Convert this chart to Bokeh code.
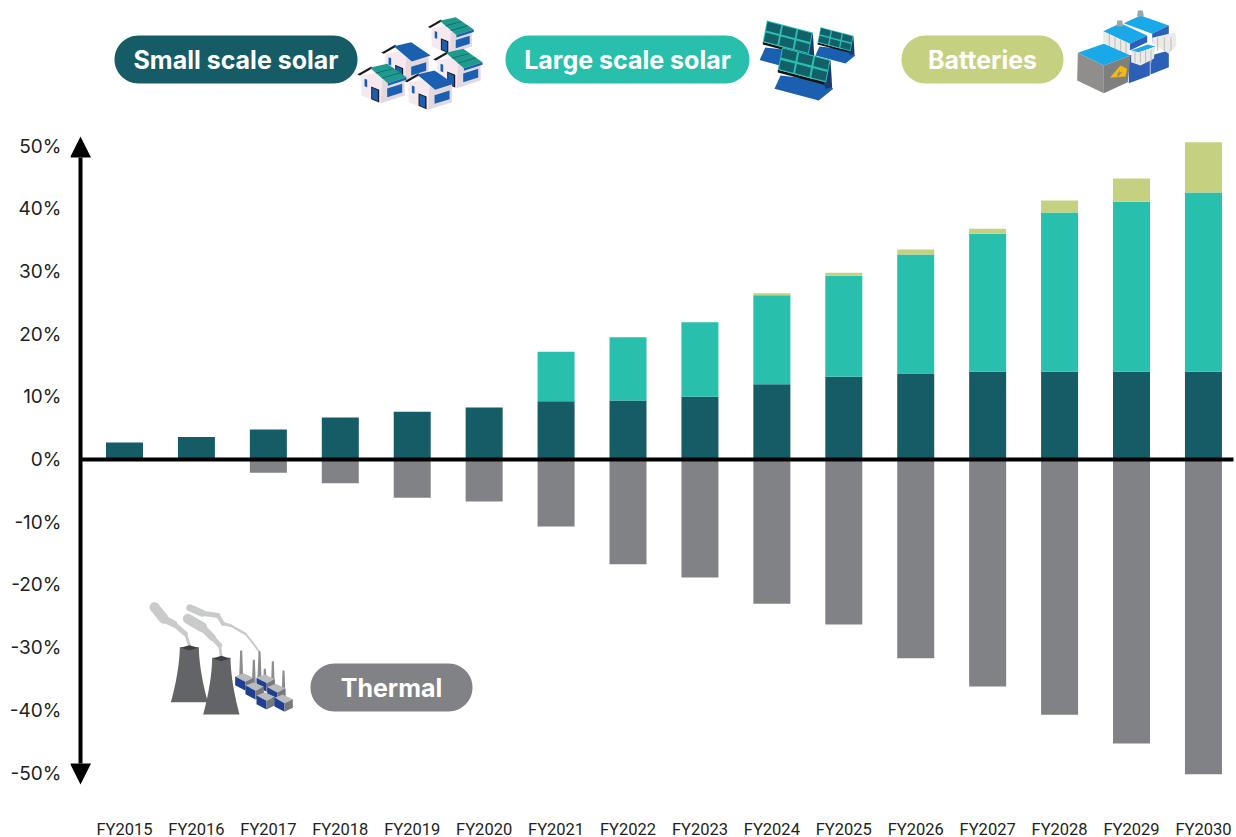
import numpy as np
from bokeh.embed import file_html
from bokeh.models import Arrow, FixedTicker, NormalHead, Range1d
from bokeh.plotting import figure
from bokeh.resources import INLINE
from bokeh.core.properties import value

years = ["FY2015", "FY2016", "FY2017", "FY2018", "FY2019", "FY2020", "FY2021", "FY2022",
         "FY2023", "FY2024", "FY2025", "FY2026", "FY2027", "FY2028", "FY2029", "FY2030"]
small_scale_solar = [2.7, 3.6, 4.8, 6.7, 7.6, 8.3, 9.3, 9.4, 10.0, 12.0, 13.2, 13.7, 14.0, 14.0, 14.0, 14.0]
large_scale_solar = [0, 0, 0, 0, 0, 0, 7.9, 10.1, 11.9, 14.2, 16.1, 19.0, 22.0, 25.4, 27.1, 28.6]
batteries = [0, 0, 0, 0, 0, 0, 0, 0, 0, 0.3, 0.5, 0.8, 0.8, 1.9, 3.7, 8.0]
thermal = [0, 0, -2.1, -3.8, -6.1, -6.7, -10.7, -16.7, -18.8, -23.0, -26.3, -31.7, -36.2, -40.7, -45.3, -50.2]
y_ticks = [-50, -40, -30, -20, -10, 0, 10, 20, 30, 40, 50]

TEAL_DARK, TEAL, OLIVE, GREY = "#155C66", "#28BFAD", "#C6D081", "#818285"
BLUE, INK = "#1B5FB0", "#231F20"

WIDTH, HEIGHT = 1236, 837
FRAME_LEFT, FRAME_BOTTOM = 70, 812
X0, X_STEP = 124.0, 71.93
Y0, Y_STEP = 459.0, 6.27


def dx(px):
    return (np.asarray(px, dtype=float) - X0) / X_STEP


def dy(py):
    return (Y0 - np.asarray(py, dtype=float)) / Y_STEP


p = figure(frame_width=WIDTH - FRAME_LEFT, frame_height=FRAME_BOTTOM, output_backend="svg", toolbar_location=None,
           x_range=Range1d(float(dx(FRAME_LEFT)), float(dx(WIDTH))),
           y_range=Range1d(float(dy(FRAME_BOTTOM)), float(dy(0))),
           min_border_left=FRAME_LEFT, min_border_right=0, min_border_top=0,
           min_border_bottom=HEIGHT - FRAME_BOTTOM)
p.outline_line_color = None
p.grid.visible = False

idx = np.arange(len(years))
bottom = np.zeros(len(years))
for vals, col in [(small_scale_solar, TEAL_DARK), (large_scale_solar, TEAL), (batteries, OLIVE)]:
    vals = np.array(vals, dtype=float)
    p.vbar(x=idx, bottom=bottom, top=bottom + vals, width=37 / X_STEP, fill_color=col, line_color=None)
    bottom = bottom + vals
p.vbar(x=idx, bottom=0, top=thermal, width=37 / X_STEP, fill_color=GREY, line_color=None)

# horizontal zero line and double-headed vertical axis
p.line(dx([80, 1233]), [0, 0], line_color="black", line_width=4)
p.add_layout(Arrow(x_start=float(dx(80)), x_end=float(dx(80)), y_start=float(dy(784)), y_end=float(dy(136)),
                   line_color="black", line_width=4,
                   start=NormalHead(size=21, fill_color="black", line_color="black", line_width=0),
                   end=NormalHead(size=21, fill_color="black", line_color="black", line_width=0)))

p.xaxis.ticker = FixedTicker(ticks=list(idx))
p.xaxis.major_label_overrides = {int(i): y for i, y in zip(idx, years)}
p.xaxis.axis_line_color = None
p.xaxis.major_tick_line_color = None
p.xaxis.minor_tick_line_color = None
p.xaxis.major_label_standoff = 1
p.xaxis.major_label_text_font = "Roboto"
p.xaxis.major_label_text_font_size = "16.5px"
p.xaxis.major_label_text_color = INK

p.yaxis.ticker = FixedTicker(ticks=y_ticks)
p.yaxis.major_label_overrides = {t: f"{t}%" for t in y_ticks}
p.yaxis.axis_line_color = None
p.yaxis.major_tick_line_color = None
p.yaxis.minor_tick_line_color = None
p.yaxis.major_label_standoff = 3
p.yaxis.major_label_text_font = "Inter"
p.yaxis.major_label_text_font_size = "19px"
p.yaxis.major_label_text_color = INK


def poly(points, color):
    pts = np.array(points, dtype=float)
    p.patch(dx(pts[:, 0]), dy(pts[:, 1]), fill_color=color, line_color=None)


def pill(x0, x1, y0, y1, color, label):
    r = (y1 - y0) / 2
    t = np.linspace(-np.pi / 2, np.pi / 2, 30)
    xs = np.r_[x1 - r + r * np.cos(t), x0 + r - r * np.cos(t)]
    ys = np.r_[y0 + r + r * np.sin(t), y0 + r - r * np.sin(t)]
    p.patch(dx(xs), dy(ys), fill_color=color, line_color=None)
    p.text([float(dx((x0 + x1) / 2))], [float(dy((y0 + y1) / 2))], text=[label], text_color="white",
           text_font=value("Inter"), text_font_style="bold", text_font_size="25px",
           text_align="center", text_baseline="middle")


pill(114, 357, 35, 83, TEAL_DARK, "Small scale solar")
pill(505, 749, 35, 83, TEAL, "Large scale solar")
pill(901, 1063, 35, 83, OLIVE, "Batteries")
pill(310, 472, 663, 711, GREY, "Thermal")


def shape(origin, offset, scale, points, color):
    # points are given in a 3x drawing grid relative to the icon's origin
    pts = np.array(points, dtype=float)
    xs = origin[0] + (pts[:, 0] - 770) * scale / 3 + offset[0] / 3
    ys = origin[1] + (pts[:, 1] - 190) * scale / 3 + offset[1] / 3
    poly(np.c_[xs, ys], color)


def house(offset, solar, scale=1.0):
    o = (356.7, 63.3)
    s = lambda pts, c: shape(o, offset, scale, pts, c)
    s([(782, 225), (855, 212), (912, 232), (912, 285), (840, 308), (782, 285)], "#F5E9EF")
    s([(845, 238), (912, 232), (912, 285), (840, 308)], "#E4D8E0")
    s([(770, 222), (812, 198), (816, 203), (778, 225)], "#1B1B1F")
    if solar:
        s([(808, 202), (860, 190), (918, 230), (862, 248)], "#1F9A8E")
        for f in (0.33, 0.66):
            a = (808 + 54 * f, 202 + 46 * f)
            c = (860 + 58 * f, 190 + 40 * f)
            s([a, c, (c[0], c[1] + 2), (a[0], a[1] + 2)], "#0F5C5E")
        s([(862, 248), (918, 230), (918, 238), (862, 256)], BLUE)
    else:
        s([(808, 202), (860, 190), (918, 230), (862, 248)], BLUE)
    s([(812, 258), (836, 268), (836, 306), (812, 296)], "#1B1B1F")
    s([(815, 262), (832, 270), (832, 302), (815, 294)], BLUE)
    s([(860, 264), (905, 250), (905, 276), (860, 290)], BLUE)
    s([(792, 235), (800, 238), (800, 260), (792, 257)], BLUE)


house((212, -140), True, 0.93)
house((72, -65), False)
house((228, -45), True)
house((0, 0), True)
house((142, 20), False)


def panel(ox, oy, k):
    # solar array on a blue base, drawn around its own top-left corner
    def s(pts, c):
        pts = np.array(pts, dtype=float)
        poly(np.c_[500 + (ox + pts[:, 0] * k) / 3, (oy + pts[:, 1] * k) / 3], c)
    a, b_, c_ = np.array((15.0, 0.0)), np.array((160.0, 38.0)), np.array((2.0, 68.0))
    s([(-8, 125), (125, 160), (168, 125), (145, 100), (10, 85)], BLUE)
    s([(2, 68), (147, 106), (147, 114), (2, 76)], "#111111")
    s([(140, 108), (160, 38), (165, 120), (145, 125)], "#1B3A70")
    s([a, b_, b_ + c_ - a, c_], TEAL)
    for row in range(2):
        for col in range(3):
            u0, u1 = col / 3 + 0.02, (col + 1) / 3 - 0.02
            v0, v1 = row / 2 + 0.05, (row + 1) / 2 - 0.05
            s([a + u * (b_ - a) + v * (c_ - a) for u, v in [(u0, v0), (u1, v0), (u1, v1), (u0, v1)]], "#12606A")


panel(785, 60, 0.95)
panel(950, 80, 0.68)
panel(830, 140, 1.0)


def b(pts, c):
    pts = np.array(pts, dtype=float)
    poly(np.c_[890 + pts[:, 0] / 3, pts[:, 1] / 3], c)


SKY, NAVY, PALE, RIB = "#1AA9E8", "#2B5FB8", "#ECEAE8", "#BDBBB9"
b([(780, 165), (835, 150), (835, 200), (780, 222)], NAVY)
b([(715, 165), (778, 150), (778, 225), (715, 248)], NAVY)
b([(700, 68), (750, 45), (835, 75), (785, 100)], SKY)
b([(785, 100), (835, 75), (835, 100), (785, 125)], NAVY)
b([(785, 112), (855, 95), (858, 135), (835, 160), (785, 128)], PALE)
b([(638, 92), (690, 68), (770, 105), (718, 130)], SKY)
b([(718, 130), (770, 105), (770, 125), (718, 150)], NAVY)
b([(638, 92), (718, 130), (718, 170), (638, 132)], PALE)
for rx in (655, 672, 689, 705):
    ry = 92 + (rx - 638) * 0.475
    b([(rx, ry), (rx + 3, ry + 1.5), (rx + 3, ry + 41.5), (rx, ry + 40)], RIB)
b([(722, 150), (772, 132), (795, 138), (745, 156)], SKY)
b([(722, 150), (745, 156), (795, 138), (790, 175), (750, 195), (722, 185)], PALE)
for rx in (732, 748, 764, 780):
    b([(rx, 150), (rx + 3, 150), (rx + 3, 186), (rx, 188)], RIB)
for rx in (800, 820, 840):
    b([(rx, 112), (rx + 3, 110), (rx + 3, 150), (rx, 152)], RIB)
b([(742, 30), (757, 30), (760, 48), (740, 48)], "#9AA6AE")
b([(680, 60), (695, 60), (698, 78), (678, 78)], "#9AA6AE")
b([(562, 157), (640, 130), (720, 165), (640, 195)], SKY)
b([(562, 157), (640, 195), (640, 278), (560, 240)], "#8F8E8C")
b([(640, 195), (720, 165), (712, 245), (640, 278)], "#7F7F7F")
b([(658, 232), (690, 195), (710, 205), (705, 228)], "#F5B912")
b([(680, 222), (690, 205), (686, 216), (696, 214), (682, 230)], "#8F8E8C")


def t(pts, c):
    pts = np.array(pts, dtype=float)
    poly(np.c_[130 + pts[:, 0] / 3, 590 + pts[:, 1] / 3], c)


def smoke(pts, widths):
    # a plume is thick at its far end and thins out toward the chimney
    pts = np.array(pts, dtype=float)
    for i in range(len(pts) - 1):
        p.line(dx(130 + pts[i:i + 2, 0] / 3), dy(590 + pts[i:i + 2, 1] / 3), line_color="#C9CBCA",
               line_width=widths[i], line_cap="round")


smoke([(72, 50), (100, 85), (130, 100), (165, 130), (178, 168)], [10, 7, 5, 3])
smoke([(178, 52), (215, 68), (262, 75), (278, 100), (300, 105)], [7, 5, 4, 3])
smoke([(300, 105), (345, 130), (365, 155), (385, 182)], [2.5, 2, 2])
smoke([(172, 85), (215, 110), (245, 140), (268, 165), (272, 200)], [10, 7, 5, 3])
for x0, x1, top, bot in [(148, 205, 170, 335), (245, 300, 202, 372)]:
    v = np.linspace(0, 1, 14)
    half = (x1 - x0) / 2 + 27 * v ** 1.7
    cx = (x0 + x1) / 2
    ys = top + (bot - top) * v
    t(list(zip(cx - half, ys)) + list(zip((cx + half)[::-1], ys[::-1])), "#636467")
    t([(x0 + 2, top + 2), (cx, top - 6), (x1 - 2, top + 2), (cx, top + 10)], "#3E3F42")

for sx, stop, sbot in [(332, 180, 262), (370, 208, 285), (387, 182, 262), (403, 235, 290), (427, 212, 300), (459, 240, 325)]:
    t([(sx - 3, stop), (sx + 3, stop), (sx + 6, sbot), (sx - 6, sbot)], "#8A8C8F")

for ux, uy in [(314, 258), (378, 262), (345, 285), (410, 290), (378, 315), (432, 322)]:
    t([(ux, uy), (ux + 30, uy + 16), (ux + 55, uy + 4), (ux + 25, uy - 10)], "#B9BBBD")
    t([(ux, uy), (ux + 30, uy + 16), (ux + 30, uy + 42), (ux, uy + 26)], "#1F3F93")
    t([(ux + 30, uy + 16), (ux + 55, uy + 4), (ux + 55, uy + 30), (ux + 30, uy + 42)], "#77797C")

open("out.html", "w").write(file_html(p, INLINE))
